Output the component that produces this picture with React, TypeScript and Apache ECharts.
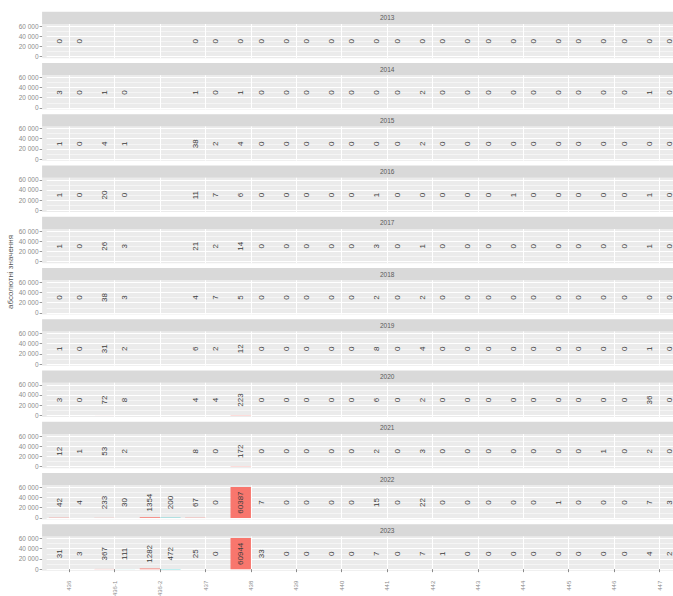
import React, { useEffect, useRef } from 'react';
import * as echarts from 'echarts';

// ---------- data ----------
const years = ['2013', '2014', '2015', '2016', '2017', '2018', '2019', '2020', '2021', '2022', '2023'];
const categories = ['436', '436-1', '436-2', '437', '438', '439', '440', '441', '442', '443', '444', '445', '446', '447', '448'];
const yTicks = [0, 20000, 40000, 60000];

// first (red) group per article
const red2013 = [0, null, null, 0, 0, 0, 0, 0, 0, 0, 0, 0, 0, 0, null];
const red2014 = [3, 1, null, 1, 1, 0, 0, 0, 2, 0, 0, 0, 0, 1, null];
const red2015 = [1, 4, null, 38, 4, 0, 0, 0, 2, 0, 0, 0, 0, 0, null];
const red2016 = [1, 20, null, 11, 6, 0, 0, 1, 0, 0, 1, 0, 0, 1, null];
const red2017 = [1, 26, null, 21, 14, 0, 0, 3, 1, 0, 0, 0, 0, 1, null];
const red2018 = [0, 38, null, 4, 5, 0, 0, 2, 2, 0, 0, 0, 0, 0, null];
const red2019 = [1, 31, null, 6, 12, 0, 0, 8, 4, 0, 0, 0, 0, 1, null];
const red2020 = [3, 72, null, 4, 223, 0, 0, 6, 2, 0, 0, 0, 0, 36, null];
const red2021 = [12, 53, null, 8, 172, 0, 0, 2, 3, 0, 0, 0, 1, 2, null];
const red2022 = [42, 233, 1354, 67, 60387, 0, 0, 15, 22, 0, 0, 1, 0, 7, null];
const red2023 = [31, 367, 1282, 25, 60944, 0, 0, 7, 7, 0, 0, 0, 0, 4, null];

// second (teal) group per article
const teal2013 = [0, null, null, 0, 0, 0, 0, 0, 0, 0, 0, 0, 0, 0, null];
const teal2014 = [0, 0, null, 0, 0, 0, 0, 0, 0, 0, 0, 0, 0, 0, null];
const teal2015 = [0, 1, null, 2, 0, 0, 0, 0, 0, 0, 0, 0, 0, 0, null];
const teal2016 = [0, 0, null, 7, 0, 0, 0, 0, 0, 0, 0, 0, 0, 0, null];
const teal2017 = [0, 3, null, 2, 0, 0, 0, 0, 0, 0, 0, 0, 0, 0, null];
const teal2018 = [0, 3, null, 7, 0, 0, 0, 0, 0, 0, 0, 0, 0, 0, null];
const teal2019 = [0, 2, null, 2, 0, 0, 0, 0, 0, 0, 0, 0, 0, 0, null];
const teal2020 = [0, 8, null, 4, 0, 0, 0, 0, 0, 0, 0, 0, 0, 0, null];
const teal2021 = [1, 2, null, 0, 0, 0, 0, 0, 0, 0, 0, 0, 0, 0, null];
const teal2022 = [4, 30, 200, 0, 7, 0, 0, 0, 0, 0, 0, 0, 0, 3, null];
const teal2023 = [3, 111, 472, 0, 33, 0, 0, 0, 1, 0, 0, 0, 0, 2, null];

const redByYear = [red2013, red2014, red2015, red2016, red2017, red2018, red2019, red2020, red2021, red2022, red2023];
const tealByYear = [teal2013, teal2014, teal2015, teal2016, teal2017, teal2018, teal2019, teal2020, teal2021, teal2022, teal2023];

// ---------- layout ----------
const FONT = 'Liberation Sans, Arial, sans-serif';
const W = 673;
const PANEL_LEFT = 42.1;
const BAND_LEFT = 46.64;
const BAND_W = 45.4;
const PANEL_RIGHT = BAND_LEFT + categories.length * BAND_W + (BAND_LEFT - PANEL_LEFT);
const FIRST_STRIP_TOP = 11.7;
const PERIOD = 51.25;
const STRIP_H = 12.3;
const PANEL_H = 34.2;
const LABEL_Y = 30000;

function fmt(v: number) {
  return String(v).replace(/\B(?=(\d{3})+(?!\d))/g, ' ');
}

export default function App() {
  const ref = useRef<HTMLDivElement>(null);

  useEffect(() => {
    if (!ref.current) return;
    const chart = echarts.init(ref.current, null, { renderer: 'svg' });

    const allVals: number[] = [];
    [...redByYear, ...tealByYear].forEach((a) => a.forEach((v) => { if (v != null) allVals.push(v as number); }));
    const dataMax = Math.max(...allVals);
    const pxPerUnit = PANEL_H / (1.1 * dataMax);
    const topTick = yTicks[yTicks.length - 1];
    const n = years.length;

    const grids: any[] = [];
    const xAxes: any[] = [];
    const yAxes: any[] = [];
    const series: any[] = [];
    const elements: any[] = [];
    const gridW = categories.length * BAND_W;

    years.forEach((yr, i) => {
      const stripTop = FIRST_STRIP_TOP + PERIOD * i;
      const panelTop = stripTop + STRIP_H;
      const panelBottom = panelTop + PANEL_H;
      const y0 = panelBottom - 0.05 * dataMax * pxPerUnit;
      const isLast = i === n - 1;

      // background + strip
      elements.push({
        type: 'rect', z: -10, silent: true,
        shape: { x: PANEL_LEFT, y: panelTop, width: PANEL_RIGHT - PANEL_LEFT, height: PANEL_H },
        style: { fill: '#EBEBEB' },
      });
      elements.push({
        type: 'rect', z: -10, silent: true,
        shape: { x: PANEL_LEFT, y: stripTop, width: PANEL_RIGHT - PANEL_LEFT, height: STRIP_H },
        style: { fill: '#D9D9D9' },
      });
      elements.push({
        type: 'text', z: -9, silent: true,
        x: (PANEL_LEFT + PANEL_RIGHT) / 2, y: stripTop + STRIP_H / 2,
        style: { text: yr, fontSize: 6.5, fontFamily: FONT, fill: '#595959', textAlign: 'center', textVerticalAlign: 'middle', align: 'center', verticalAlign: 'middle' },
      });

      // grid A: bars
      grids.push({ left: BAND_LEFT, width: gridW, top: y0 - topTick * pxPerUnit, height: topTick * pxPerUnit, containLabel: false, outerBoundsMode: 'none' });
      // grid B: vertical grid lines, full panel height
      grids.push({ left: BAND_LEFT, width: gridW, top: panelTop, height: PANEL_H, containLabel: false, outerBoundsMode: 'none' });

      xAxes.push({
        type: 'category', gridIndex: 2 * i, data: categories,
        offset: isLast ? panelBottom - y0 : 0,
        axisLine: { show: false },
        axisTick: { show: isLast, alignWithLabel: true, length: 3, lineStyle: { color: '#8a8a8a', width: 1 } },
        axisLabel: {
          show: isLast, rotate: 90, margin: 10, fontSize: 6, color: '#8a8a8a', fontFamily: FONT,
          // only the articles whose tick lies inside the visible page get a label
          interval: (idx: number) => BAND_LEFT + (idx + 0.5) * BAND_W < W,
        },
        splitLine: { show: false },
      });
      xAxes.push({
        type: 'value', gridIndex: 2 * i + 1, min: 0, max: categories.length * 2, interval: 1,
        axisLine: { show: false }, axisTick: { show: false }, axisLabel: { show: false },
        splitLine: { show: true, lineStyle: { color: ['rgba(255,255,255,0)', '#ffffff'], width: 1 } },
      });

      yAxes.push({
        type: 'value', gridIndex: 2 * i, min: 0, max: topTick, interval: yTicks[1] - yTicks[0],
        offset: BAND_LEFT - PANEL_LEFT,
        axisLine: { show: false },
        axisTick: { show: true, length: 2.5, lineStyle: { color: '#9a9a9a', width: 1 } },
        axisLabel: { fontSize: 6.5, color: '#8c8c8c', margin: 3.5, fontFamily: FONT, formatter: (v: number) => fmt(v) },
        splitLine: { show: true, lineStyle: { color: '#ffffff', width: 1 } },
        minorTick: { show: false, splitNumber: 2 },
        minorSplitLine: { show: true, lineStyle: { color: '#ffffff', width: 0.5 } },
      });
      yAxes.push({ type: 'value', gridIndex: 2 * i + 1, show: false, min: 0, max: 1 });

      const label = {
        show: true, position: 'insideBottom', distance: LABEL_Y * pxPerUnit,
        rotate: 90, align: 'center', verticalAlign: 'middle',
        fontSize: 8, color: '#3d3d3d', fontFamily: FONT,
        textBorderWidth: 0, textBorderColor: 'transparent',
      };
      series.push({
        type: 'bar', xAxisIndex: 2 * i, yAxisIndex: 2 * i, data: redByYear[i],
        barGap: '0%', barCategoryGap: '10%', clip: false,
        itemStyle: { color: '#F8766D' }, label,
      });
      series.push({
        type: 'bar', xAxisIndex: 2 * i, yAxisIndex: 2 * i, data: tealByYear[i],
        barGap: '0%', barCategoryGap: '10%', clip: false,
        itemStyle: { color: '#00BFC4' }, label,
      });
    });

    elements.push({
      type: 'text', z: -9, silent: true,
      x: 10, y: 272, rotation: Math.PI / 2,
      style: { text: 'абсолютні значення', fontSize: 8, fontFamily: FONT, fill: '#555555', textAlign: 'center', textVerticalAlign: 'middle', align: 'center', verticalAlign: 'middle' },
    });

    chart.setOption({
      animation: false,
      grid: grids,
      xAxis: xAxes,
      yAxis: yAxes,
      series,
      graphic: { elements },
    });

    return () => chart.dispose();
  }, []);

  return <div ref={ref} style={{ position: 'absolute', left: 0, top: 0, width: 673, height: 596, background: '#fff' }} />;
}
